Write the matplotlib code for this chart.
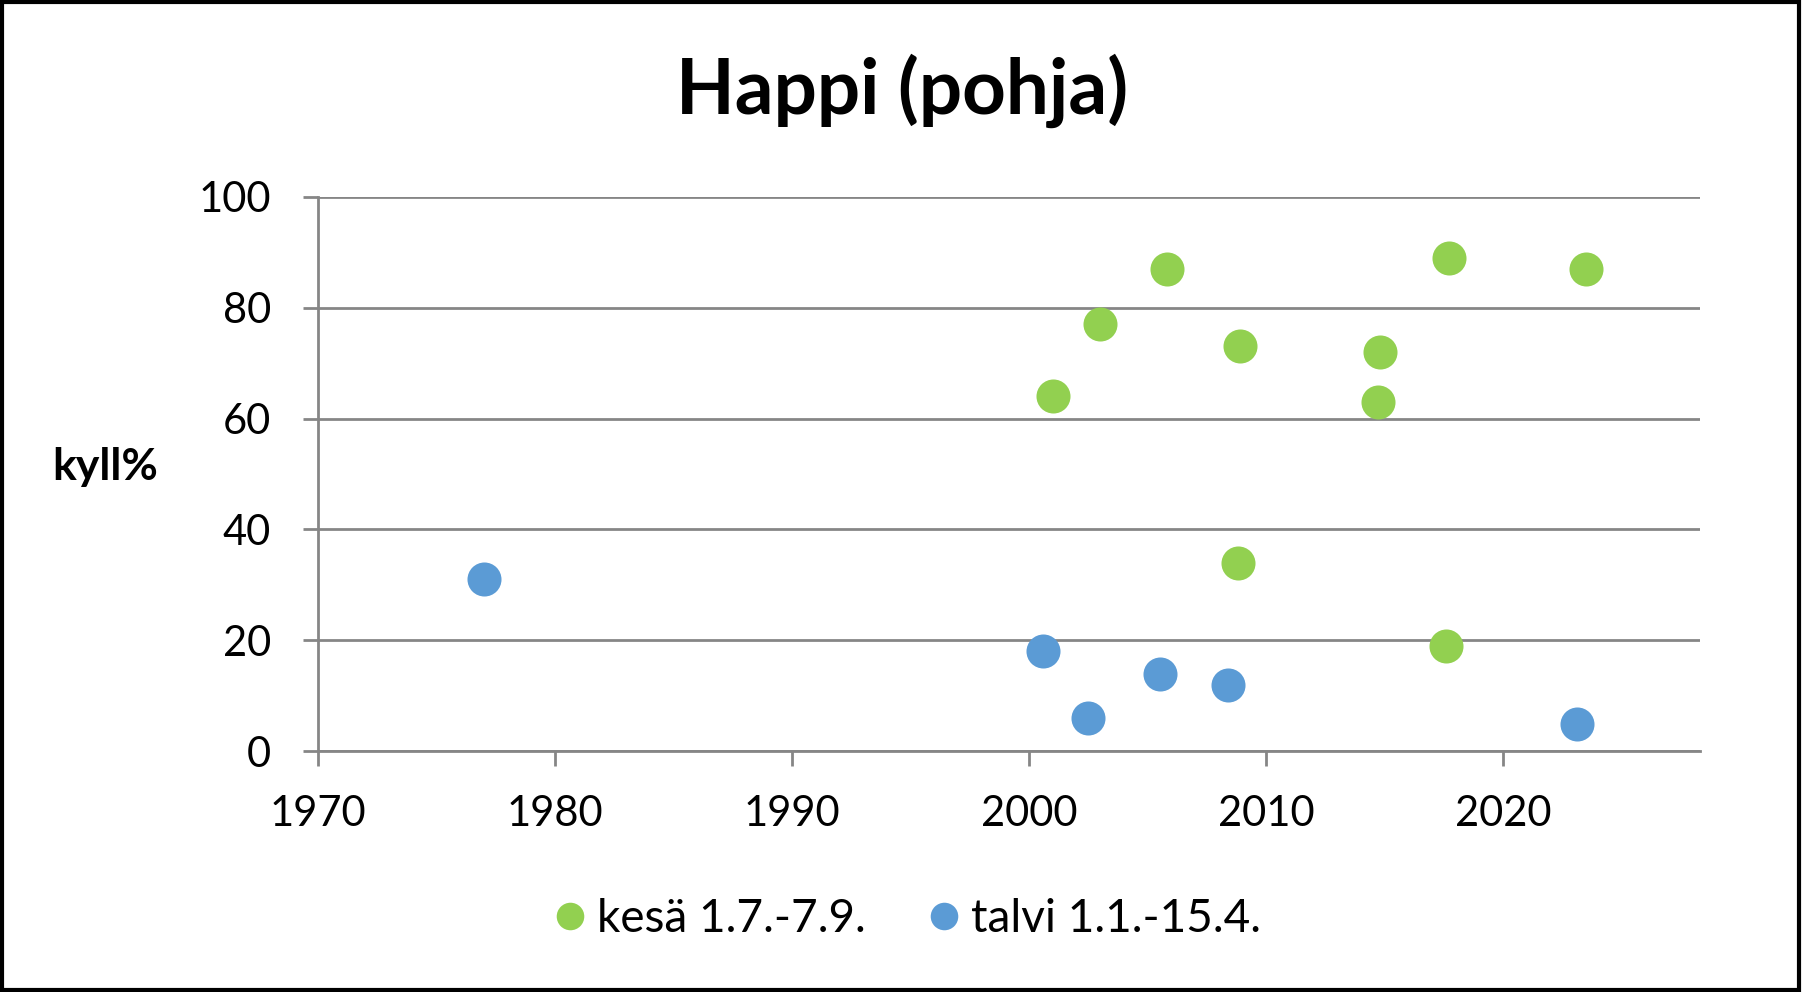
import matplotlib
matplotlib.use("Agg")
import matplotlib.pyplot as plt
from matplotlib.patches import Rectangle

plt.rcParams['font.family'] = ['Lato', 'DejaVu Sans']

# Data
summer_label = "kesä 1.7.-7.9."
winter_label = "talvi 1.1.-15.4."
summer_year = [2005.8, 2017.7, 2023.5, 2003.0, 2008.9, 2014.8, 2001.0, 2014.7, 2008.8, 2017.6]
summer_val = [87, 89, 87, 77, 73, 72, 64, 63, 34, 19]
winter_year = [1977.0, 2000.6, 2005.5, 2008.4, 2002.5, 2023.1]
winter_val = [31, 18, 14, 12, 6, 5]
x_ticks = [1970, 1980, 1990, 2000, 2010, 2020]
y_ticks = [0, 20, 40, 60, 80, 100]
title = "Happi (pohja)"
ylabel = "kyll%"

GREEN = "#92D050"
BLUE = "#5B9BD5"
GRID = "#868686"

W, H = 1803, 992
fig = plt.figure(figsize=(W / 100, H / 100), dpi=100)
fig.patch.set_facecolor("white")

ax = fig.add_axes([318 / W, 1 - 751.3 / H, (1700 - 318) / W, (751.3 - 196.7) / H])
ax.set_xlim(1970, 2028.3)
ax.set_ylim(0, 100)
ax.set_xticks(x_ticks)
ax.set_yticks(y_ticks)

ax.yaxis.grid(True, color=GRID, linewidth=2.0, zorder=0)
ax.set_axisbelow(True)
for s in ["top", "right"]:
    ax.spines[s].set_visible(False)
for s in ["left", "bottom"]:
    ax.spines[s].set_color(GRID)
    ax.spines[s].set_linewidth(2.0)

ax.tick_params(axis="both", which="major", direction="out", length=10.8, width=2.0,
               color=GRID, labelsize=30, labelcolor="black")
ax.tick_params(axis="y", pad=23)
ax.tick_params(axis="x", pad=21)

ax.plot(summer_year, summer_val, linestyle="none", marker="o", markersize=24.5,
        color=GREEN, markeredgewidth=0, label=summer_label, zorder=3)
ax.plot(winter_year, winter_val, linestyle="none", marker="o", markersize=24.5,
        color=BLUE, markeredgewidth=0, label=winter_label, zorder=3)

fig.text(902.5 / W, 1 - 114 / H, title, ha="center", va="baseline",
         fontsize=55, fontweight="bold")
fig.text(52 / W, 1 - 480 / H, ylabel, ha="left", va="baseline",
         fontsize=32, fontweight="bold")

leg = ax.legend(loc="center", bbox_to_anchor=(908.5 / W, 1 - 919 / H),
                bbox_transform=fig.transFigure, ncol=2, frameon=False,
                fontsize=33, markerscale=0.81, handlelength=0.6,
                handletextpad=0.28, columnspacing=1.42)

fig.patches.append(Rectangle((0.001, 0.002), 0.997, 0.996, transform=fig.transFigure,
                             fill=False, edgecolor="black", linewidth=3.0))

fig.savefig("out.png", dpi=100)
